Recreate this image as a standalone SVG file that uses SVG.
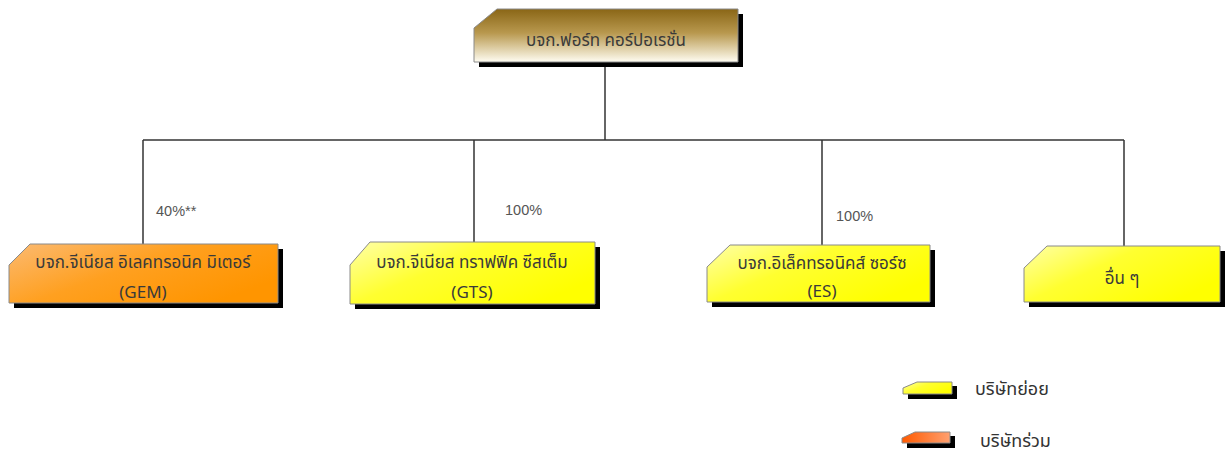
<svg xmlns="http://www.w3.org/2000/svg" width="1225" height="454" viewBox="0 0 1225 454">
<defs>
<linearGradient id="gBrown" x1="0" y1="0" x2="0" y2="1">
<stop offset="0" stop-color="#8a6616"/>
<stop offset="0.45" stop-color="#b8984e"/>
<stop offset="1" stop-color="#fffdf2"/>
</linearGradient>
<linearGradient id="gOrange" x1="0" y1="0" x2="1" y2="0.6">
<stop offset="0" stop-color="#fbba72"/>
<stop offset="0.5" stop-color="#ffa020"/>
<stop offset="1" stop-color="#ff9500"/>
</linearGradient>
<linearGradient id="gYellow" x1="0" y1="0" x2="1" y2="0.6">
<stop offset="0" stop-color="#ffffa8"/>
<stop offset="0.45" stop-color="#ffff30"/>
<stop offset="1" stop-color="#ffff00"/>
</linearGradient>
<linearGradient id="gRed" x1="0" y1="0" x2="1" y2="0">
<stop offset="0" stop-color="#ff5a00"/>
<stop offset="1" stop-color="#ffa070"/>
</linearGradient>
</defs>
<style>
.shadow{fill:#000}
.box{stroke:#8a8a8a;stroke-width:1}
.conn{stroke:#333;stroke-width:1.5;fill:none}
.t{font-family:"Noto Sans Thai","Liberation Sans",sans-serif;font-size:17px;fill:#3a3a3a;text-anchor:middle}
.pct{font-family:"Liberation Sans",sans-serif;font-size:14.5px;fill:#555}
.leg{font-family:"Noto Sans Thai","Liberation Sans",sans-serif;font-size:18px;fill:#333}
</style>
<rect width="1225" height="454" fill="#fff"/>
<g id="connectors">
<line class="conn" x1="605" y1="62" x2="605" y2="140"/>
<line class="conn" x1="143" y1="140" x2="1124" y2="140"/>
<line class="conn" x1="143" y1="140" x2="143" y2="244"/>
<line class="conn" x1="474" y1="140" x2="474" y2="242"/>
<line class="conn" x1="822" y1="140" x2="822" y2="245"/>
<line class="conn" x1="1124" y1="140" x2="1124" y2="246"/>
</g>
<g id="top">
<polygon class="shadow" points="502,14 743,14 743,67 479,67 479,33"/>
<polygon class="box" fill="url(#gBrown)" points="497,9 738,9 738,62 474,62 474,28"/>
<text class="t" x="606" y="46">บจก.ฟอร์ท คอร์ปอเรชั่น</text>
</g>
<g id="gem">
<polygon class="shadow" points="35,249 283,249 283,308 14,308 14,270"/>
<polygon class="box" fill="url(#gOrange)" points="30,244 278,244 278,303 9,303 9,265"/>
<text class="t" x="143" y="268">บจก.จีเนียส อิเลคทรอนิค มิเตอร์</text>
<text class="t" x="143" y="298">(GEM)</text>
</g>
<g id="gts">
<polygon class="shadow" points="375,247 600,247 600,309 355,309 355,270"/>
<polygon class="box" fill="url(#gYellow)" points="370,242 595,242 595,304 350,304 350,265"/>
<text class="t" x="472" y="268">บจก.จีเนียส ทราฟฟิค ซีสเต็ม</text>
<text class="t" x="472" y="298">(GTS)</text>
</g>
<g id="es">
<polygon class="shadow" points="735,250 935,250 935,307 712,307 712,272"/>
<polygon class="box" fill="url(#gYellow)" points="730,245 930,245 930,302 707,302 707,267"/>
<text class="t" x="822" y="269">บจก.อิเล็คทรอนิคส์ ซอร์ซ</text>
<text class="t" x="822" y="297">(ES)</text>
</g>
<g id="others">
<polygon class="shadow" points="1052,251 1225,251 1225,307 1029,307 1029,273"/>
<polygon class="box" fill="url(#gYellow)" points="1047,246 1220,246 1220,302 1024,302 1024,268"/>
<text class="t" x="1122" y="284">อื่น ๆ</text>
</g>
<g id="pcts">
<text class="pct" x="156" y="216">40%**</text>
<text class="pct" x="505" y="215">100%</text>
<text class="pct" x="836" y="221">100%</text>
</g>
<g id="legend-sub">
<polygon class="shadow" points="921,386 957,386 957,399 908,399 908,392"/>
<polygon class="box" fill="url(#gYellow)" points="917,382 952,382 952,394 903,394 903,388"/>
<text class="leg" x="975" y="395">บริษัทย่อย</text>
</g>
<g id="legend-assoc">
<polygon class="shadow" points="920,436 955,436 955,448 907,448 907,442"/>
<polygon class="box" fill="url(#gRed)" points="915,432 950,432 950,443 902,443 902,438"/>
<text class="leg" x="980" y="447">บริษัทร่วม</text>
</g>
</svg>
